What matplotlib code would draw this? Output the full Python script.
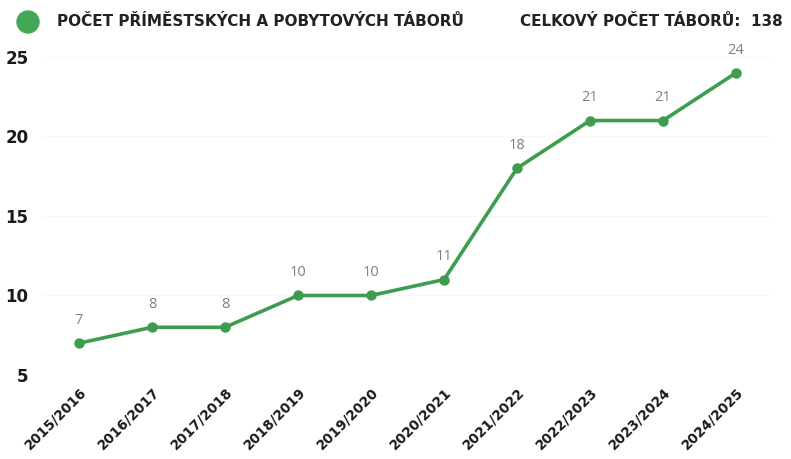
import matplotlib
matplotlib.use("Agg")
import matplotlib.pyplot as plt
from matplotlib.patches import Ellipse

seasons = ["2015/2016", "2016/2017", "2017/2018", "2018/2019", "2019/2020",
           "2020/2021", "2021/2022", "2022/2023", "2023/2024", "2024/2025"]
camps = [7, 8, 8, 10, 10, 11, 18, 21, 21, 24]
yticks = [5, 10, 15, 20, 25]
title_left = "POČET PŘÍMĚSTSKÝCH A POBYTOVÝCH TÁBORŮ"
title_right = "CELKOVÝ POČET TÁBORŮ:  138"

green = "#3f9c4f"
fam = ["DejaVu Sans"]
heavy = "bold"

fig = plt.figure(figsize=(7.91, 4.59), dpi=100)
ax = fig.add_axes([0.0537, 0.183, 0.923, 0.693])
x = list(range(len(seasons)))
ax.plot(x, camps, color=green, lw=2.6, marker="o", ms=6.5, zorder=3)
for xi, v in zip(x, camps):
    ax.annotate(str(v), (xi, v), xytext=(0, 11), textcoords="offset points",
                ha="center", va="bottom", fontsize=10.5, color="#808080",
                family=["Open Sans", "DejaVu Sans"], fontweight="normal")
ax.set_xlim(-0.5, 9.5)
ax.set_ylim(5, 25)
ax.set_yticks(yticks)
ax.set_yticklabels([str(t) for t in yticks], family=fam, fontweight=heavy,
                   fontsize=12, color="#1a1a1a")
ax.set_xticks(x)
ax.set_xticklabels(seasons, rotation=45, ha="right", rotation_mode="anchor",
                   family=fam, fontweight=heavy, fontsize=9.8, color="#1a1a1a")
ax.tick_params(axis="both", length=0)
ax.tick_params(axis="y", pad=10)
ax.tick_params(axis="x", pad=7)
for s in ax.spines.values():
    s.set_visible(False)
ax.grid(axis="y", color="#f8f8f8", lw=0.8)
ax.set_axisbelow(True)

fig.patches.append(Ellipse((28 / 791, 1 - 22 / 459), 22 / 791, 22 / 459,
                           transform=fig.transFigure, color="#45a756"))
fig.text(57 / 791, 1 - 22 / 459, title_left, ha="left", va="center",
         family=fam, fontweight=heavy, fontsize=11, color="#222222")
fig.text(783 / 791, 1 - 22 / 459, title_right, ha="right", va="center",
         family=fam, fontweight=heavy, fontsize=11, color="#222222")

fig.savefig("out.png", dpi=100)
